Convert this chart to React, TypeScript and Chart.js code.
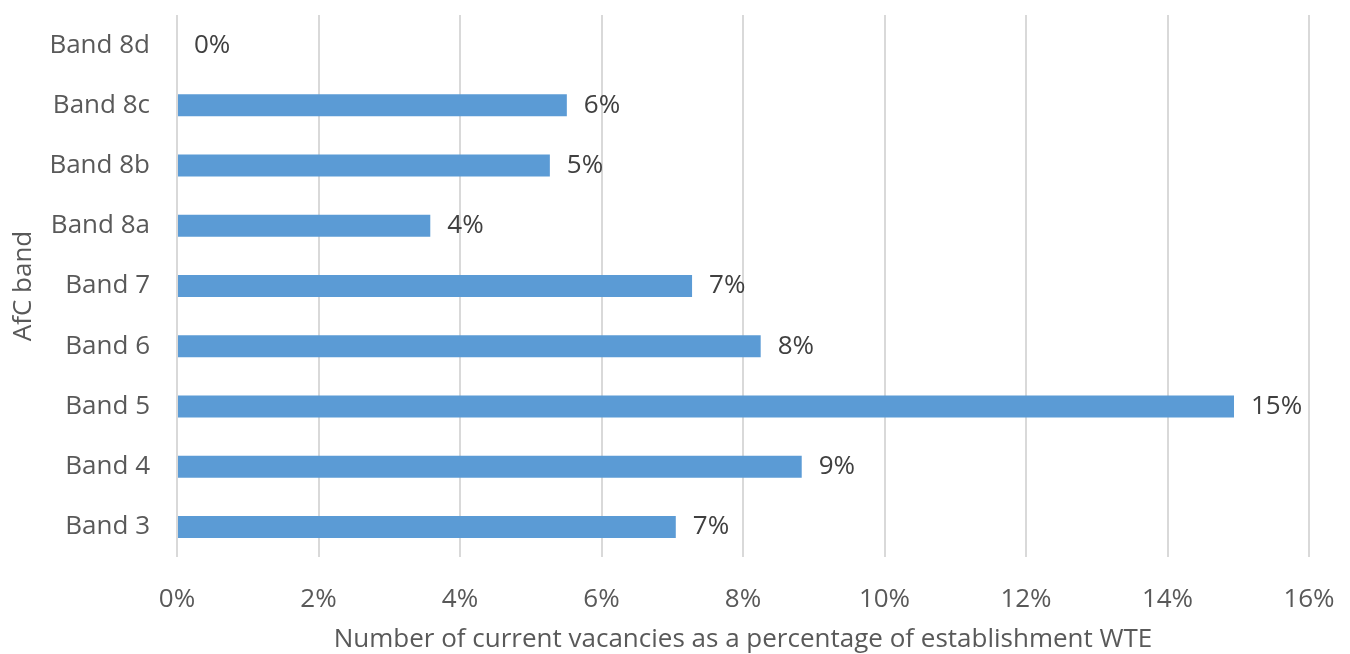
import React, { useEffect, useRef } from "react";
import { Chart, registerables } from "chart.js";

Chart.register(...registerables);

const categories = ["Band 8d", "Band 8c", "Band 8b", "Band 8a", "Band 7", "Band 6", "Band 5", "Band 4", "Band 3"];
const vacancyPct = [0, 5.51, 5.27, 3.58, 7.28, 8.25, 14.94, 8.83, 7.05];
const xTickValues = [0, 2, 4, 6, 8, 10, 12, 14, 16];
const xTitle = "Number of current vacancies as a percentage of establishment WTE";
const yTitle = "AfC band";

const FONT = "'Open Sans', 'Liberation Sans', sans-serif";
const FS = 26;

const dataLabelPlugin = {
  id: "dataLabels",
  afterDatasetsDraw(chart: any) {
    const ctx = chart.ctx;
    const meta = chart.getDatasetMeta(0);
    ctx.save();
    ctx.font = `${FS}px ${FONT}`;
    ctx.fillStyle = "#404040";
    ctx.textAlign = "left";
    ctx.textBaseline = "middle";
    meta.data.forEach((bar: any, i: number) => {
      const v = vacancyPct[i];
      ctx.fillText(`${Math.round(v)}%`, bar.x + 17, bar.y);
    });
    ctx.restore();
  },
};

export default function App() {
  const ref = useRef<HTMLCanvasElement | null>(null);
  useEffect(() => {
    if (!ref.current) return;
    const chart = new Chart(ref.current, {
      type: "bar",
      data: {
        labels: categories,
        datasets: [
          {
            data: vacancyPct,
            backgroundColor: "#5b9bd5",
            borderWidth: 0,
            categoryPercentage: 1,
            barPercentage: 0.365,
          },
        ],
      },
      options: {
        indexAxis: "y",
        responsive: false,
        animation: false,
        layout: { padding: { top: 15, right: 41, bottom: 0, left: 0 } },
        plugins: { legend: { display: false }, tooltip: { enabled: false } },
        scales: {
          x: {
            min: 0,
            max: 16,
            afterBuildTicks: (scale: any) => {
              scale.ticks = xTickValues.map((v) => ({ value: v }));
            },
            afterFit: (scale: any) => {
              scale.height = 97;
              scale.paddingLeft = 0;
              scale.paddingRight = 0;
            },
            grid: { color: "#d9d9d9", lineWidth: 2, drawTicks: false },
            border: { display: false },
            ticks: {
              padding: 27,
              color: "#595959",
              font: { family: FONT, size: FS },
              callback: (v: any) => `${v}%`,
              maxRotation: 0,
            },
            title: {
              display: true,
              text: xTitle,
              color: "#595959",
              font: { family: FONT, size: FS, lineHeight: 1.1 },
              padding: { top: 0, bottom: 0 },
            },
          },
          y: {
            afterFit: (scale: any) => {
              scale.width = 177;
              scale.paddingTop = 0;
              scale.paddingBottom = 0;
            },
            grid: { display: false, drawTicks: false },
            border: { display: false },
            ticks: {
              padding: 27,
              color: "#595959",
              font: { family: FONT, size: FS },
            },
            title: {
              display: true,
              text: yTitle,
              color: "#595959",
              font: { family: FONT, size: FS },
              padding: { top: 8, bottom: 0 },
            },
          },
        },
      },
      plugins: [dataLabelPlugin],
    });
    return () => chart.destroy();
  }, []);
  return (
    <div style={{ position: "fixed", left: 0, top: 0, width: 1350, height: 654, background: "#fff" }}>
      <canvas ref={ref} width={1350} height={654} />
    </div>
  );
}
